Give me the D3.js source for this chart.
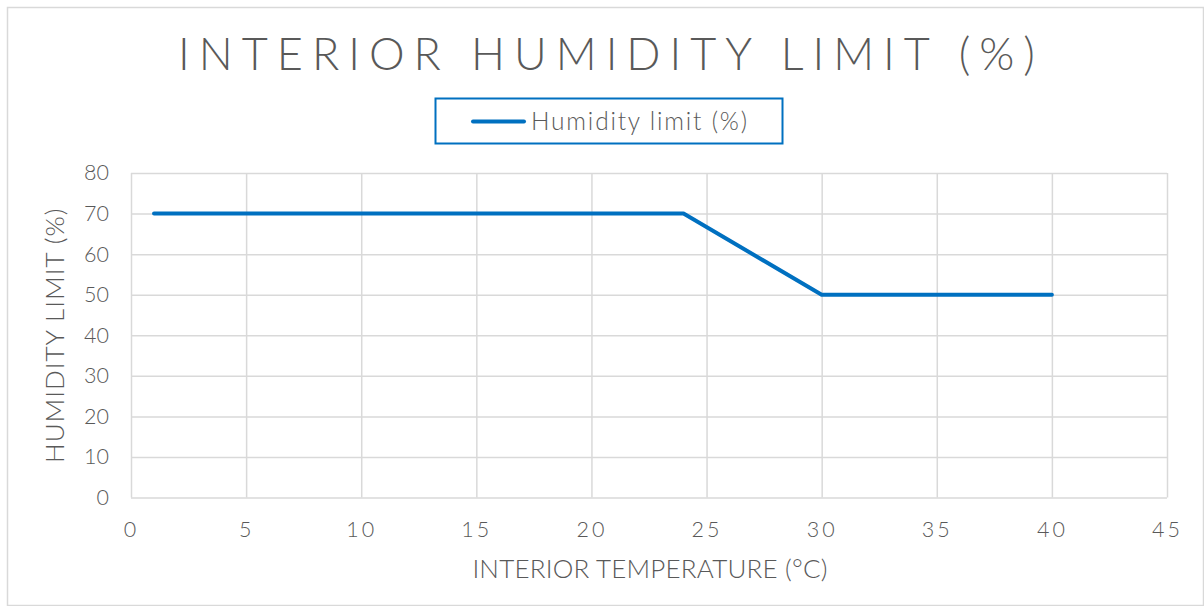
<!DOCTYPE html>
<html><head><meta charset="utf-8">
<script src="https://cdn.jsdelivr.net/npm/d3@7"></script>
<style>
body{margin:0;background:#fff;}
text{font-family:Lato,"Open Sans",sans-serif;fill:#595959;font-weight:300;}
</style></head>
<body>
<svg id="c" width="1204" height="606"></svg>
<script>
const temps = [1, 24, 30, 40];
const humidity = [70, 70, 50, 50];
const xTicks = [0,5,10,15,20,25,30,35,40,45];
const yTicks = [0,10,20,30,40,50,60,70,80];
const titleText = "INTERIOR HUMIDITY LIMIT (%)";
const seriesName = "Humidity limit (%)";
const xTitle = "INTERIOR TEMPERATURE (°C)";
const yTitle = "HUMIDITY LIMIT (%)";

const svg = d3.select("#c");
const W = 1204, H = 606;
const m = {left:131, right:1167, top:173, bottom:497.5};

svg.append("rect").attr("x",7.5).attr("y",7.5).attr("width",W-8).attr("height",H-8)
  .attr("fill","#fff").attr("stroke","#d9d9d9").attr("stroke-width",1.5);

const x = d3.scaleLinear().domain([0,45]).range([m.left,m.right]);
const y = d3.scaleLinear().domain([0,80]).range([m.bottom,m.top]);

// grid
const gx = svg.append("g").attr("transform",`translate(0,${m.bottom})`)
  .call(d3.axisBottom(x).tickValues(xTicks).tickSize(-(m.bottom-m.top)).tickFormat(""));
gx.select(".domain").remove();
gx.selectAll("line").attr("stroke","#d9d9d9").attr("stroke-width",1.5);
const gy = svg.append("g").attr("transform",`translate(${m.left},0)`)
  .call(d3.axisLeft(y).tickValues(yTicks).tickSize(-(m.right-m.left)).tickFormat(""));
gy.select(".domain").remove();
gy.selectAll("line").attr("stroke","#d9d9d9").attr("stroke-width",1.5);

// tick labels
const lx = svg.append("g").attr("transform",`translate(0,${m.bottom})`)
  .call(d3.axisBottom(x).tickValues(xTicks).tickSize(0).tickPadding(24));
lx.select(".domain").remove();
lx.selectAll("text").style("font-size","21.5px").style("letter-spacing","3px")
  .attr("fill","#595959").style("font-family","Lato,sans-serif").style("font-weight","300");
const ly = svg.append("g").attr("transform",`translate(${m.left},0)`)
  .call(d3.axisLeft(y).tickValues(yTicks).tickSize(0).tickPadding(22));
ly.select(".domain").remove();
ly.selectAll("text").style("font-size","21.5px").attr("fill","#595959")
  .style("font-family","Lato,sans-serif").style("font-weight","300");

// line
const pts = temps.map((t,i)=>[t,humidity[i]]);
svg.append("path").datum(pts)
  .attr("d", d3.line().x(d=>x(d[0])).y(d=>y(d[1])))
  .attr("fill","none").attr("stroke","#0070C0").attr("stroke-width",4)
  .attr("stroke-linejoin","round").attr("stroke-linecap","round");

// title
svg.append("text").attr("x",611).attr("y",70).attr("text-anchor","middle")
  .style("font-size","45px").style("letter-spacing","9px")
  .text(titleText);

// legend
svg.append("rect").attr("x",435.5).attr("y",98.5).attr("width",347).attr("height",45)
  .attr("fill","none").attr("stroke","#0070C0").attr("stroke-width",2);
svg.append("line").attr("x1",473).attr("x2",524).attr("y1",121.5).attr("y2",121.5)
  .attr("stroke","#0070C0").attr("stroke-width",4).attr("stroke-linecap","round");
svg.append("text").attr("x",531).attr("y",130).style("font-size","24.5px")
  .style("letter-spacing","1.8px").text(seriesName);

// axis titles
svg.append("text").attr("x",(m.left+m.right)/2 + 1).attr("y",578).attr("text-anchor","middle")
  .style("font-size","26px").style("letter-spacing","0.2px").text(xTitle);
svg.append("text").attr("transform",`translate(64,${(m.top+m.bottom)/2}) rotate(-90)`)
  .attr("text-anchor","middle").style("font-size","26px").style("letter-spacing","1px").text(yTitle);
</script>
</body></html>
